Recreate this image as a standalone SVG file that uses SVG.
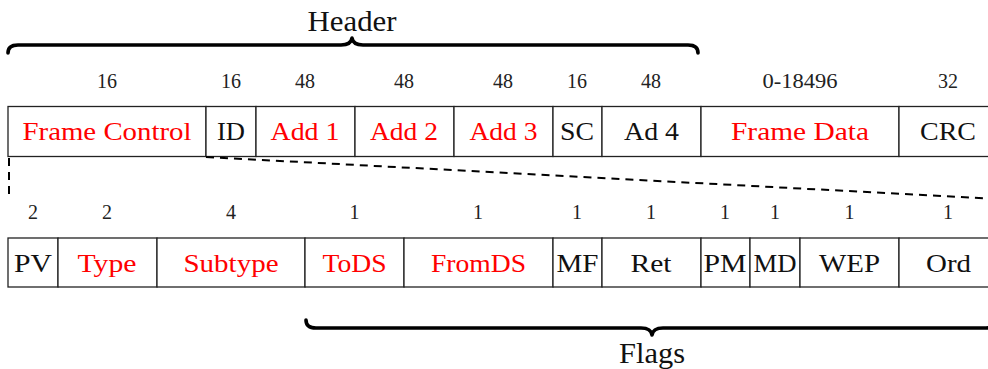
<svg xmlns="http://www.w3.org/2000/svg" width="988" height="369" viewBox="0 0 988 369" font-family="'Liberation Serif', 'Times New Roman', serif">
  <style>
    text { font-family: "Liberation Serif", "Times New Roman", serif; }
    .cell { fill: #ffffff; stroke: #222222; stroke-width: 1.3; }
    .lbl { font-size: 26px; text-anchor: middle; }
    .red { fill: #ff0000; }
    .blk { fill: #111111; }
    .num { font-size: 20px; text-anchor: middle; fill: #222222; }
    .title { font-size: 29px; text-anchor: middle; fill: #111111; }
    .brace { fill: none; stroke: #000000; stroke-width: 3.6; stroke-linecap: round; stroke-linejoin: round; }
    .dash { fill: none; stroke: #000000; stroke-width: 2; stroke-dasharray: 8 6; }
  </style>

  <rect width="988" height="369" fill="#ffffff"/>

  <!-- Header brace -->
  <g id="header">
    <path class="brace" d="M 8 53 Q 8 45 18 45 L 341 45 Q 351 45 352 38 Q 353 45 363 45 L 688 45 Q 698 45 698 53"/>
    <text class="title" x="352" y="31" textLength="89" lengthAdjust="spacingAndGlyphs">Header</text>
  </g>

  <!-- Frame fields: sizes in bits -->
  <g id="frame-sizes">
    <text class="num" x="107" y="88">16</text>
    <text class="num" x="231" y="88">16</text>
    <text class="num" x="305" y="88">48</text>
    <text class="num" x="404" y="88">48</text>
    <text class="num" x="503" y="88">48</text>
    <text class="num" x="577" y="88">16</text>
    <text class="num" x="651" y="88">48</text>
    <text class="num" x="800" y="88" textLength="75" lengthAdjust="spacingAndGlyphs">0-18496</text>
    <text class="num" x="948" y="88">32</text>
  </g>

  <!-- Frame fields -->
  <g id="frame-control">
    <rect class="cell" x="8" y="106.5" width="198" height="50"/>
    <text class="lbl red" x="107" y="140" textLength="169" lengthAdjust="spacingAndGlyphs">Frame Control</text>
  </g>
  <g id="id">
    <rect class="cell" x="206" y="106.5" width="50" height="50"/>
    <text class="lbl blk" x="231" y="140" textLength="28" lengthAdjust="spacingAndGlyphs">ID</text>
  </g>
  <g id="add1">
    <rect class="cell" x="256" y="106.5" width="99" height="50"/>
    <text class="lbl red" x="305" y="140" textLength="69" lengthAdjust="spacingAndGlyphs">Add 1</text>
  </g>
  <g id="add2">
    <rect class="cell" x="355" y="106.5" width="99" height="50"/>
    <text class="lbl red" x="404" y="140" textLength="68" lengthAdjust="spacingAndGlyphs">Add 2</text>
  </g>
  <g id="add3">
    <rect class="cell" x="454" y="106.5" width="99" height="50"/>
    <text class="lbl red" x="503.5" y="140" textLength="68" lengthAdjust="spacingAndGlyphs">Add 3</text>
  </g>
  <g id="sc">
    <rect class="cell" x="553" y="106.5" width="49" height="50"/>
    <text class="lbl blk" x="577" y="140" textLength="34" lengthAdjust="spacingAndGlyphs">SC</text>
  </g>
  <g id="ad4">
    <rect class="cell" x="602" y="106.5" width="99" height="50"/>
    <text class="lbl blk" x="651.5" y="140" textLength="55" lengthAdjust="spacingAndGlyphs">Ad 4</text>
  </g>
  <g id="frame-data">
    <rect class="cell" x="701" y="106.5" width="198" height="50"/>
    <text class="lbl red" x="800" y="140" textLength="138" lengthAdjust="spacingAndGlyphs">Frame Data</text>
  </g>
  <g id="crc">
    <rect class="cell" x="899" y="106.5" width="99" height="50"/>
    <text class="lbl blk" x="948" y="140" textLength="56" lengthAdjust="spacingAndGlyphs">CRC</text>
  </g>

  <!-- Zoom-out guides from Frame Control to its sub-fields -->
  <g id="connectors">
    <line class="dash" x1="9" y1="158" x2="9" y2="199"/>
    <line class="dash" x1="206" y1="157" x2="998" y2="199"/>
  </g>

  <!-- Frame Control sub-fields: sizes in bits -->
  <g id="control-sizes">
    <text class="num" x="33" y="219">2</text>
    <text class="num" x="107" y="219">2</text>
    <text class="num" x="231" y="219">4</text>
    <text class="num" x="354.5" y="219">1</text>
    <text class="num" x="478" y="219">1</text>
    <text class="num" x="577" y="219">1</text>
    <text class="num" x="651" y="219">1</text>
    <text class="num" x="725" y="219">1</text>
    <text class="num" x="775" y="219">1</text>
    <text class="num" x="849.5" y="219">1</text>
    <text class="num" x="948" y="219">1</text>
  </g>

  <!-- Frame Control sub-fields -->
  <g id="pv">
    <rect class="cell" x="8" y="238" width="50" height="49"/>
    <text class="lbl blk" x="33" y="272" textLength="38" lengthAdjust="spacingAndGlyphs">PV</text>
  </g>
  <g id="type">
    <rect class="cell" x="58" y="238" width="99" height="49"/>
    <text class="lbl red" x="107" y="272" textLength="59" lengthAdjust="spacingAndGlyphs">Type</text>
  </g>
  <g id="subtype">
    <rect class="cell" x="157" y="238" width="148" height="49"/>
    <text class="lbl red" x="231" y="272" textLength="95" lengthAdjust="spacingAndGlyphs">Subtype</text>
  </g>
  <g id="tods">
    <rect class="cell" x="305" y="238" width="99" height="49"/>
    <text class="lbl red" x="354.5" y="272" textLength="64" lengthAdjust="spacingAndGlyphs">ToDS</text>
  </g>
  <g id="fromds">
    <rect class="cell" x="404" y="238" width="149" height="49"/>
    <text class="lbl red" x="478.5" y="272" textLength="95" lengthAdjust="spacingAndGlyphs">FromDS</text>
  </g>
  <g id="mf">
    <rect class="cell" x="553" y="238" width="49" height="49"/>
    <text class="lbl blk" x="577.5" y="272" textLength="42" lengthAdjust="spacingAndGlyphs">MF</text>
  </g>
  <g id="ret">
    <rect class="cell" x="602" y="238" width="99" height="49"/>
    <text class="lbl blk" x="651" y="272" textLength="41" lengthAdjust="spacingAndGlyphs">Ret</text>
  </g>
  <g id="pm">
    <rect class="cell" x="701" y="238" width="49" height="49"/>
    <text class="lbl blk" x="725" y="272" textLength="43" lengthAdjust="spacingAndGlyphs">PM</text>
  </g>
  <g id="md">
    <rect class="cell" x="750" y="238" width="50" height="49"/>
    <text class="lbl blk" x="775" y="272" textLength="43" lengthAdjust="spacingAndGlyphs">MD</text>
  </g>
  <g id="wep">
    <rect class="cell" x="800" y="238" width="99" height="49"/>
    <text class="lbl blk" x="849.5" y="272" textLength="61" lengthAdjust="spacingAndGlyphs">WEP</text>
  </g>
  <g id="ord">
    <rect class="cell" x="899" y="238" width="99" height="49"/>
    <text class="lbl blk" x="948.5" y="272" textLength="45" lengthAdjust="spacingAndGlyphs">Ord</text>
  </g>

  <!-- Flags brace -->
  <g id="flags">
    <path class="brace" d="M 306 320 Q 306 328 316 328 L 641 328 Q 651 328 652 335 Q 653 328 663 328 L 986 328 Q 996 328 996 320"/>
    <text class="title" x="652" y="363" textLength="66" lengthAdjust="spacingAndGlyphs">Flags</text>
  </g>
</svg>
